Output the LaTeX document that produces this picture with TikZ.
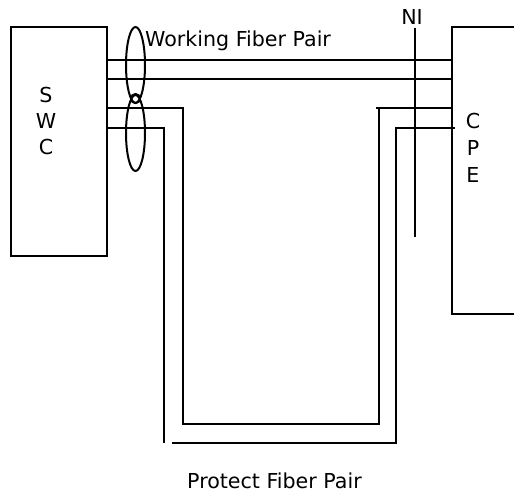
\documentclass[tikz,border=0pt]{standalone}
\usepackage{fontspec}
\setmainfont{DejaVu Sans}
\begin{document}
\begin{tikzpicture}[x=1pt,y=-1pt,
  wire/.style={line width=2pt,line join=miter},
  lbl/.style={font=\fontsize{20.6}{24}\selectfont,inner sep=0pt},
  loop/.style={line width=2pt}]
\useasboundingbox (0,0) rectangle (514,493);
% boxes
\coordinate (swcNW) at (11,27);
\coordinate (swcSE) at (107,256);
\draw[wire] (swcNW) rectangle (swcSE);
\coordinate (cpeT) at (515,27);
\coordinate (cpeB) at (515,314);
\draw[wire] (cpeT) -- (452,27) -- (452,314) -- (cpeB);
% NI line
\coordinate (niT) at (415,28);
\coordinate (niB) at (415,237);
\draw[wire] (niT) -- (niB);
% working pair
\coordinate (w1a) at (107,60); \coordinate (w1b) at (452,60);
\coordinate (w2a) at (107,79); \coordinate (w2b) at (452,79);
\draw[wire] (w1a) -- (w1b);
\draw[wire] (w2a) -- (w2b);
% protect pair inner
\coordinate (p1a) at (107,108);
\coordinate (p1b) at (183,424);
\coordinate (p1c) at (379,108);
\coordinate (p1d) at (452,108);
\draw[wire] (p1a) -| (p1b) -| (p1c);
\draw[wire] (376,108) -- (p1d);
% protect pair outer
\coordinate (p2a) at (107,128);
\coordinate (p2b) at (164,443);
\coordinate (p2c) at (396,443);
\coordinate (p2d) at (455,128);
\draw[wire] (p2a) -| (p2b);
\draw[wire] (172,443) -- (p2c) |- (p2d);
% ellipses
\draw[loop] (135.5,65) ellipse [x radius=9.5,y radius=38];
\draw[loop] (135.5,133) ellipse [x radius=9.5,y radius=38];
\draw[loop] (135.5,98.5) circle [radius=4.5];
% labels
\node[lbl,anchor=base west] (work) at (145,46.5) {Working Fiber Pair};
\node[lbl,anchor=base west] (prot) at (187,488) {Protect Fiber Pair};
\node[lbl,anchor=base] (ni) at (412,24) {NI};
\node[lbl,anchor=base] (s) at (46,102) {S};
\node[lbl,anchor=base] (w) at (46,128) {W};
\node[lbl,anchor=base] (c) at (46,154) {C};
\node[lbl,anchor=base] (c2) at (473,128) {C};
\node[lbl,anchor=base] (p2) at (473,155) {P};
\node[lbl,anchor=base] (e2) at (473,182) {E};
\end{tikzpicture}
\end{document}
